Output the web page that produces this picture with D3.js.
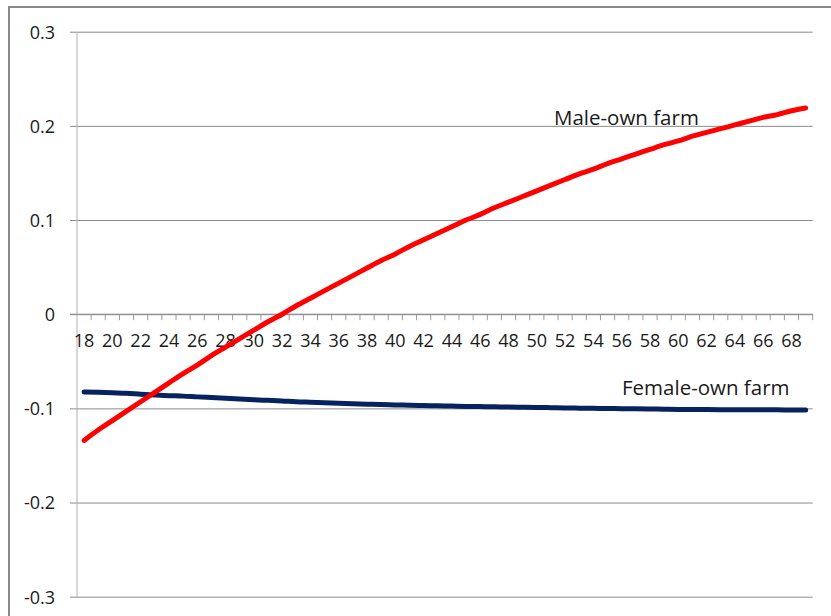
<!DOCTYPE html>
<html>
<head>
<meta charset="utf-8">
<script src="https://cdn.jsdelivr.net/npm/d3@7"></script>
<style>
  html, body { margin: 0; padding: 0; background: #fff; }
  svg { display: block; }
  text { font-family: "Open Sans", sans-serif; fill: #1a1a1a; }
</style>
</head>
<body>
<svg id="chart" width="831" height="616"></svg>
<script>
// ---- data ----
const ages = d3.range(18, 70); // 18 .. 69
const maleOwnFarm = [
  -0.134, -0.123, -0.113, -0.103, -0.093, -0.083, -0.073, -0.063, -0.054, -0.044,
  -0.035, -0.026, -0.017, -0.008, 0.000, 0.009, 0.017, 0.025, 0.033, 0.041,
  0.049, 0.057, 0.064, 0.072, 0.079, 0.086, 0.093, 0.100, 0.106, 0.113,
  0.119, 0.125, 0.131, 0.137, 0.143, 0.149, 0.154, 0.160, 0.165, 0.170,
  0.175, 0.180, 0.184, 0.189, 0.193, 0.197, 0.201, 0.205, 0.209, 0.212,
  0.216, 0.219
];
const femaleOwnFarm = [
  -0.0825, -0.0830, -0.0835, -0.0840, -0.0850, -0.0858, -0.0865, -0.0870, -0.0878, -0.0885,
  -0.0892, -0.0900, -0.0908, -0.0915, -0.0922, -0.0930, -0.0935, -0.0940, -0.0945, -0.0950,
  -0.0955, -0.0960, -0.0963, -0.0967, -0.0970, -0.0973, -0.0976, -0.0979, -0.0981, -0.0983,
  -0.0986, -0.0988, -0.0990, -0.0993, -0.0996, -0.0998, -0.1000, -0.1002, -0.1003, -0.1005,
  -0.1007, -0.1009, -0.1011, -0.1012, -0.1013, -0.1014, -0.1015, -0.1015, -0.1016, -0.1016,
  -0.1017, -0.1017
];
const yTicks = [0.3, 0.2, 0.1, 0, -0.1, -0.2, -0.3];
const xLabels = d3.range(18, 70, 2);
const seriesNames = ["Male-own farm", "Female-own farm"];

// ---- layout ----
const svg = d3.select("#chart");
const plotLeft = 77, plotRight = 812.7, plotTop = 31.7, plotBottom = 596.7;

const x = d3.scaleBand().domain(ages).range([plotLeft, plotRight]).padding(0);
const y = d3.scaleLinear().domain([-0.3, 0.3]).range([plotBottom, plotTop]);

// outer frame
svg.append("rect")
  .attr("x", 9).attr("y", 7).attr("width", 900).attr("height", 700)
  .attr("fill", "none").attr("stroke", "#8a8a8a").attr("stroke-width", 2);

// gridlines (y axis ticks outward by 7px)
const yAxis = d3.axisLeft(y).tickValues(yTicks)
  .tickSize(-(plotRight - plotLeft)).tickSizeOuter(0)
  .tickFormat(d => d === 0 ? "0" : d.toFixed(1));
const gy = svg.append("g").attr("transform", `translate(${plotLeft},0)`).call(yAxis);
gy.select(".domain").remove();
gy.selectAll(".tick line")
  .attr("x1", -7)
  .attr("stroke", "#8c8c8c").attr("stroke-width", 1);
gy.selectAll(".tick text")
  .attr("x", -22).attr("dy", "0.35em")
  .style("font-size", "18px").style("font-family", "'Open Sans', sans-serif")
  .attr("fill", "#1a1a1a");

// y axis line
svg.append("line")
  .attr("x1", plotLeft).attr("x2", plotLeft).attr("y1", plotTop).attr("y2", plotBottom)
  .attr("stroke", "#b0b0b0").attr("stroke-width", 1);

// category axis at y = 0
const y0 = y(0);
const boundaries = ages.map(a => x(a)).concat([x(ages[ages.length - 1]) + x.bandwidth()]);
svg.append("g").selectAll("line").data(boundaries.slice(1)).join("line")
  .attr("x1", d => d).attr("x2", d => d)
  .attr("y1", y0).attr("y2", y0 + 6)
  .attr("stroke", "#9a9a9a").attr("stroke-width", 1);
svg.append("line")
  .attr("x1", plotLeft - 7).attr("x2", plotRight).attr("y1", y0).attr("y2", y0)
  .attr("stroke", "#8c8c8c").attr("stroke-width", 1);

const xAxis = d3.axisBottom(x).tickValues(xLabels).tickSize(0).tickPadding(0);
const gx = svg.append("g").attr("transform", `translate(0,${y0})`).call(xAxis);
gx.select(".domain").remove();
gx.selectAll(".tick line").remove();
gx.selectAll(".tick text")
  .attr("y", 27).attr("dy", "0.35em")
  .style("font-size", "18px").style("font-family", "'Open Sans', sans-serif")
  .attr("fill", "#1a1a1a");

// lines
const line = d3.line()
  .x((d, i) => x(ages[i]) + x.bandwidth() / 2)
  .y(d => y(d))
  .curve(d3.curveMonotoneX);

svg.append("path").datum(femaleOwnFarm)
  .attr("d", line).attr("fill", "none")
  .attr("stroke", "#07235f").attr("stroke-width", 5)
  .attr("stroke-linecap", "round").attr("stroke-linejoin", "round");

svg.append("path").datum(maleOwnFarm)
  .attr("d", line).attr("fill", "none")
  .attr("stroke", "#ff0000").attr("stroke-width", 5)
  .attr("stroke-linecap", "round").attr("stroke-linejoin", "round");

// annotations
svg.append("text").attr("x", 554).attr("y", 125)
  .style("font-size", "20.5px").text(seriesNames[0]);
svg.append("text").attr("x", 622).attr("y", 395)
  .style("font-size", "20.5px").text(seriesNames[1]);
</script>
</body>
</html>
